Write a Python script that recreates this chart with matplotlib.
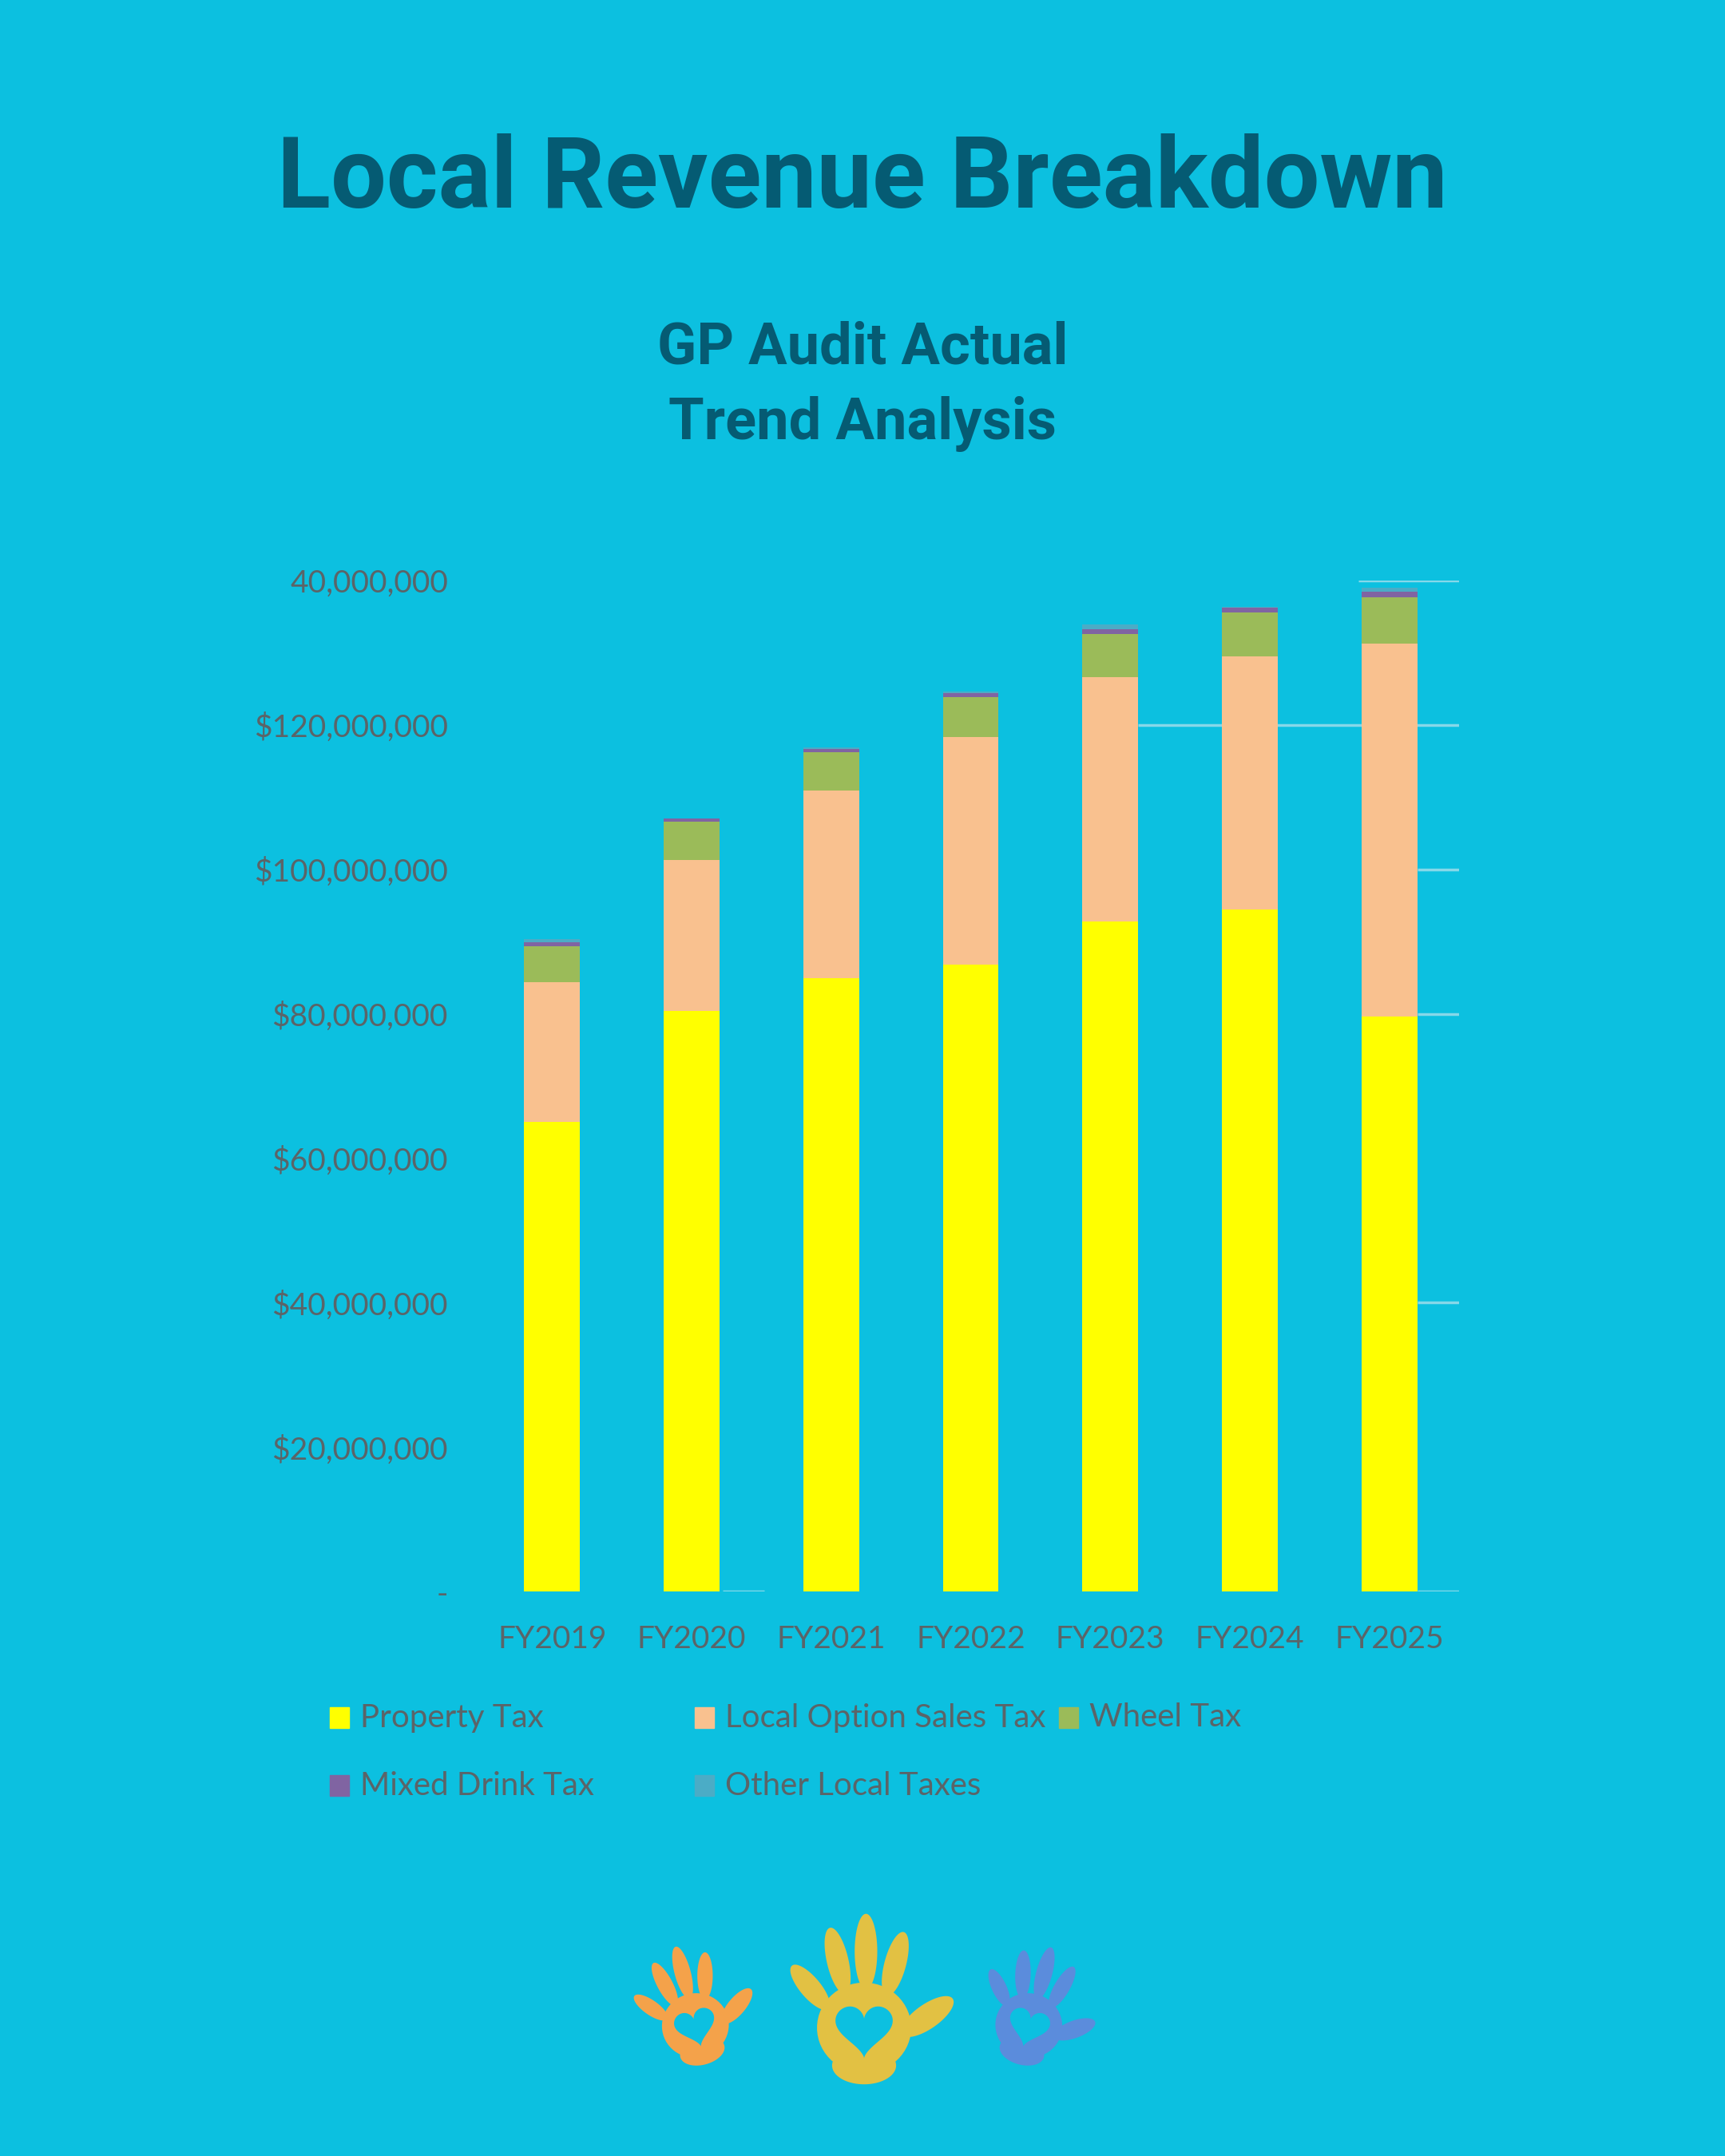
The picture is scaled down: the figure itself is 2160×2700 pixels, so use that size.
import numpy as np
import matplotlib
matplotlib.use('Agg')
import matplotlib.pyplot as plt
from matplotlib import font_manager
from matplotlib.patches import Rectangle, Polygon

# data (millions of dollars)
years = ['FY2019', 'FY2020', 'FY2021', 'FY2022', 'FY2023', 'FY2024', 'FY2025']
property_tax = [65.0, 80.4, 84.9, 86.8, 92.8, 94.4, 79.6]
sales_tax = [19.4, 20.9, 26.0, 31.5, 33.8, 35.1, 51.7]
wheel_tax = [5.0, 5.35, 5.3, 5.6, 6.0, 6.1, 6.4]
mixed_drink = [0.55, 0.35, 0.45, 0.55, 0.65, 0.6, 0.75]
other_local = [0.35, 0.05, 0.2, 0.2, 0.65, 0.1, 0.55]
series_names = ['Property Tax', 'Local Option Sales Tax', 'Wheel Tax',
                'Mixed Drink Tax', 'Other Local Taxes']
ytick_vals = [0, 20, 40, 60, 80, 100, 120, 140]
ytick_text = ['-', '$20,000,000', '$40,000,000', '$60,000,000', '$80,000,000',
              '$100,000,000', '$120,000,000', '40,000,000']

BG = '#0cc0e0'
DARK = '#055b73'
GREY = '#5b6468'
colors = ['#ffff00', '#f9c18f', '#9bbb59', '#8064a2', '#4bacc6']

names = {f.name for f in font_manager.fontManager.ttflist}
label_font = 'Liberation Sans Narrow' if 'Liberation Sans Narrow' in names else 'Lato'

fig = plt.figure(figsize=(21.6, 27), dpi=100, facecolor=BG)

fig.text(0.5, 1 - 260/2700, 'Local Revenue Breakdown', ha='center', va='baseline',
         fontsize=89, fontweight='bold', color=DARK, family='Roboto')
fig.text(0.5, 1 - 456/2700, 'GP Audit Actual', ha='center', va='baseline',
         fontsize=52, fontweight='bold', color=DARK, family='Roboto')
fig.text(0.5, 1 - 550/2700, 'Trend Analysis', ha='center', va='baseline',
         fontsize=52, fontweight='bold', color=DARK, family='Roboto')

ax = fig.add_axes([604/2160, 1 - 1993/2700, (1827 - 604)/2160, (1993 - 727)/2700])
ax.set_facecolor('none')
x = np.arange(len(years))
bottom = np.zeros(len(years))
for vals, c in zip([property_tax, sales_tax, wheel_tax, mixed_drink, other_local], colors):
    v = np.array(vals) * 1e6
    ax.bar(x, v, 0.4, bottom=bottom, color=c, zorder=3)
    bottom += v

# leftover faint gridline fragments seen in the original
grid_bits = [(0, 6.2, 6.5), (0, 1.22, 1.52), (40, 6.2, 6.5), (80, 6.2, 6.5),
             (100, 6.2, 6.5), (120, 4.2, 6.5), (140, 5.78, 6.5)]
for yv, x0, x1 in grid_bits:
    ax.hlines(yv * 1e6, x0, x1, color='#a6dfec', lw=2.5, alpha=0.8, zorder=1)

ax.set_xlim(-0.5, 6.5)
ax.set_ylim(0, 140e6)
ax.set_yticks([v * 1e6 for v in ytick_vals])
ax.set_yticklabels(ytick_text)
ax.set_xticks(x)
ax.set_xticklabels(years)
ax.tick_params(length=0, labelsize=28, labelcolor=GREY)
ax.tick_params(axis='y', pad=31)
ax.tick_params(axis='x', pad=30)
for lab in ax.get_xticklabels() + ax.get_yticklabels():
    lab.set_family(label_font)
for s in ax.spines.values():
    s.set_visible(False)

# overlay in pixel coordinates for legend and decoration
ov = fig.add_axes([0, 0, 1, 1])
ov.set_xlim(0, 2160)
ov.set_ylim(2700, 0)
ov.axis('off')
ov.patch.set_alpha(0)

col_x = [413, 870, 1326]
row_y = [2151, 2236]
for i, (name, c) in enumerate(zip(series_names, colors)):
    mx, my = col_x[i % 3], row_y[i // 3]
    ov.add_patch(Rectangle((mx, my - 13), 24, 26, color=c))
    ov.text(mx + 38, my, name, va='center', ha='left', fontsize=29,
            color=GREY, family=label_font)


def ellipse_pts(cx, cy, a, b, ang=0, n=60):
    t = np.linspace(0, 2*np.pi, n)
    px, py = a*np.cos(t), b*np.sin(t)
    r = np.radians(ang)
    return np.c_[cx + px*np.cos(r) - py*np.sin(r), cy + px*np.sin(r) + py*np.cos(r)]


def draw_hand(cx, cy, sc, rot, color):
    parts = [ellipse_pts(0, -0.08, 0.5, 0.48), ellipse_pts(0, -0.48, 0.34, 0.2)]
    fingers = [(-0.38, 0.12, 40, 0.6, 0.11), (-0.2, 0.28, 13, 0.72, 0.115),
               (0.02, 0.33, 0, 0.8, 0.12), (0.24, 0.26, -15, 0.7, 0.115),
               (0.4, -0.15, -55, 0.66, 0.13)]
    for bx, by, ang, ln, w in fingers:
        r = np.radians(ang)
        mxp, myp = bx - np.sin(r)*ln/2, by + np.cos(r)*ln/2
        parts.append(ellipse_pts(mxp, myp, w, ln/2, ang))
    t = np.linspace(0, 2*np.pi, 100)
    hx = 16*np.sin(t)**3
    hy = 13*np.cos(t) - 5*np.cos(2*t) - 2*np.cos(3*t) - np.cos(4*t)
    heart = np.c_[hx, hy] * 0.019 + [0, -0.08]
    r = np.radians(rot)
    rm = np.array([[np.cos(r), np.sin(r)], [-np.sin(r), np.cos(r)]])
    for k, p in enumerate(parts + [heart]):
        q = p @ rm * sc
        pts = np.c_[cx + q[:, 0], cy - q[:, 1]]
        is_heart = k == len(parts)
        ov.add_patch(Polygon(pts, closed=True, color=BG if is_heart else color,
                             lw=0, zorder=5 if is_heart else 4))


draw_hand(869, 2530, 84, 15, '#f4a24a')
draw_hand(1082, 2530, 118, 0, '#e2c143')
draw_hand(1290, 2530, 84, -15, '#5b8cdc')

fig.savefig('out.png', dpi=100, facecolor=BG)
